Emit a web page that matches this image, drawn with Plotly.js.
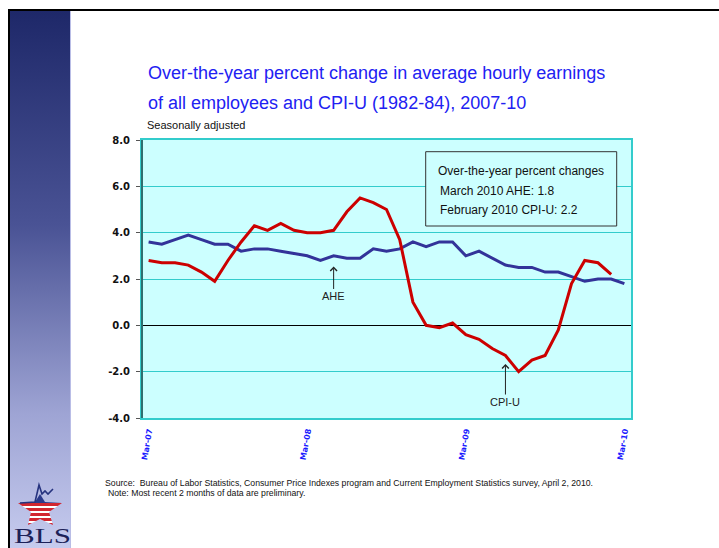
<!DOCTYPE html>
<html>
<head>
<meta charset="utf-8">
<script src="https://cdn.plot.ly/plotly-3.0.1.min.js"></script>
<style>
  html, body { margin:0; padding:0; background:#ffffff; }
  #wrap { position:relative; width:719px; height:548px; overflow:hidden; background:#fff; }
  #topline { position:absolute; left:8px; top:9px; width:711px; height:2px; background:#000; }
  #leftline { position:absolute; left:8px; top:9px; width:2px; height:539px; background:#000; }
  #bar { position:absolute; left:10px; top:11px; width:60px; height:537px;
         background:linear-gradient(to bottom, #1e2869 0%, #4a5395 40%, #9ea4d4 75%, #c6cbee 100%); }
  #barEdge { position:absolute; left:70px; top:11px; width:1px; height:537px; background:#b9bde6; }
  #logo { position:absolute; left:0; top:470px; width:90px; height:78px; }
  #chart { position:absolute; left:0; top:0; width:719px; height:548px; }
</style>
</head>
<body>
<div id="wrap">
  <div id="topline"></div>
  <div id="leftline"></div>
  <div id="bar"></div>
  <div id="barEdge"></div>
  <svg id="logo" width="90" height="78" viewBox="0 470 90 78" xmlns="http://www.w3.org/2000/svg">
    <defs>
      <clipPath id="starClip">
        <polygon points="40,494 45,502 62,503 49,512 53,525 40,519 28,525 31,512 18,503 35,502"/>
      </clipPath>
    </defs>
    <g clip-path="url(#starClip)">
      <rect x="15" y="492" width="50" height="11" fill="#2b3a8c"/>
      <rect x="15" y="503" width="50" height="3" fill="#d22630"/>
      <rect x="15" y="506" width="50" height="2" fill="#ffffff"/>
      <rect x="15" y="508" width="50" height="3" fill="#d22630"/>
      <rect x="15" y="511" width="50" height="2" fill="#ffffff"/>
      <rect x="15" y="513" width="50" height="3" fill="#d22630"/>
      <rect x="15" y="516" width="50" height="2" fill="#ffffff"/>
      <rect x="15" y="518" width="50" height="3" fill="#d22630"/>
      <rect x="15" y="521" width="50" height="2" fill="#ffffff"/>
      <rect x="15" y="523" width="50" height="3" fill="#d22630"/>
    </g>
    <polyline points="20,503 35,502 39,485 42,494 45,491 48,494 53,489" fill="none" stroke="#26337f" stroke-width="1.6"/>
    <text x="14" y="543" font-family="Liberation Serif, DejaVu Serif, serif" font-size="21" fill="#1c2158" textLength="57" lengthAdjust="spacingAndGlyphs">BLS</text>
  </svg>
  <div id="chart"></div>
</div>
<script>
// ---- data ----
const months = ["Mar-07","Apr-07","May-07","Jun-07","Jul-07","Aug-07","Sep-07","Oct-07","Nov-07","Dec-07",
  "Jan-08","Feb-08","Mar-08","Apr-08","May-08","Jun-08","Jul-08","Aug-08","Sep-08","Oct-08","Nov-08","Dec-08",
  "Jan-09","Feb-09","Mar-09","Apr-09","May-09","Jun-09","Jul-09","Aug-09","Sep-09","Oct-09","Nov-09","Dec-09",
  "Jan-10","Feb-10","Mar-10"];
const aheValues = [3.6,3.5,3.7,3.9,3.7,3.5,3.5,3.2,3.3,3.3,3.2,3.1,3.0,2.8,3.0,2.9,2.9,3.3,3.2,3.3,3.6,3.4,
  3.6,3.6,3.0,3.2,2.9,2.6,2.5,2.5,2.3,2.3,2.1,1.9,2.0,2.0,1.8];
const cpiValues = [2.8,2.7,2.7,2.6,2.3,1.9,2.8,3.6,4.3,4.1,4.4,4.1,4.0,4.0,4.1,4.9,5.5,5.3,5.0,3.7,1.0,0.0,
  -0.1,0.1,-0.4,-0.6,-1.0,-1.3,-2.0,-1.5,-1.3,-0.2,1.8,2.8,2.7,2.2];
const xTickVals = ["Mar-07","Mar-08","Mar-09","Mar-10"];
const yTickVals = [-4,-2,0,2,4,6,8];
const yTickText = ["-4.0","-2.0","0.0","2.0","4.0","6.0","8.0"];
const titleLines = ["Over-the-year percent change in average hourly earnings",
                    "of all employees and CPI-U (1982-84), 2007-10"];
const subtitle = "Seasonally adjusted";
const boxLines = ["Over-the-year percent changes","March 2010 AHE: 1.8","February 2010 CPI-U: 2.2"];
const sourceLines = ["Source:  Bureau of Labor Statistics, Consumer Price Indexes program and Current Employment Statistics survey, April 2, 2010.",
                     "Note: Most recent 2 months of data are preliminary."];

// ---- layout helpers (pixel -> paper) ----
const L = 142, R = 631, T = 140, B = 418;
const px = x => (x - L) / (R - L);
const py = y => (B - y) / (B - T);

const traces = [
  { type:'scatter', mode:'lines', name:'AHE', x: months, y: aheValues,
    line:{ color:'#333399', width:3 }, hoverinfo:'skip' },
  { type:'scatter', mode:'lines', name:'CPI-U', x: months.slice(0, cpiValues.length), y: cpiValues,
    line:{ color:'#cc0000', width:3 }, hoverinfo:'skip' }
];

const sansFont = 'Liberation Sans, Arial, sans-serif';
const annotations = [
  { xref:'paper', yref:'paper', x:px(145.5), y:py(73.5), xanchor:'left', yanchor:'middle', showarrow:false,
    text:titleLines[0], font:{ family:sansFont, size:18, color:'#2121f2' } },
  { xref:'paper', yref:'paper', x:px(145.5), y:py(103.5), xanchor:'left', yanchor:'middle', showarrow:false,
    text:titleLines[1], font:{ family:sansFont, size:18, color:'#2121f2' } },
  { xref:'paper', yref:'paper', x:px(144.5), y:py(125), xanchor:'left', yanchor:'middle', showarrow:false,
    text:subtitle, font:{ family:sansFont, size:11, color:'#111' } },
  { xref:'paper', yref:'paper', x:px(436), y:py(170.5), xanchor:'left', yanchor:'middle', showarrow:false,
    text:boxLines[0], font:{ family:sansFont, size:12, color:'#111' } },
  { xref:'paper', yref:'paper', x:px(438), y:py(190.5), xanchor:'left', yanchor:'middle', showarrow:false,
    text:boxLines[1], font:{ family:sansFont, size:12, color:'#111' } },
  { xref:'paper', yref:'paper', x:px(438), y:py(210), xanchor:'left', yanchor:'middle', showarrow:false,
    text:boxLines[2], font:{ family:sansFont, size:12, color:'#111' } },
  { x:'May-08', y:2.54, ax:0, ay:30, text:'AHE', showarrow:true, arrowhead:4, arrowsize:1.3, arrowwidth:1,
    arrowcolor:'#222', standoff:0, font:{ family:sansFont, size:11, color:'#222' } },
  { x:'Jun-09', y:-1.67, ax:0, ay:38, text:'CPI-U', showarrow:true, arrowhead:4, arrowsize:1.3, arrowwidth:1,
    arrowcolor:'#222', standoff:0, font:{ family:sansFont, size:11, color:'#222' } },
  { xref:'paper', yref:'paper', x:px(103), y:py(483.3), xanchor:'left', yanchor:'middle', showarrow:false,
    text:sourceLines[0], font:{ family:sansFont, size:8.7, color:'#111' } },
  { xref:'paper', yref:'paper', x:px(105.5), y:py(493.3), xanchor:'left', yanchor:'middle', showarrow:false,
    text:sourceLines[1], font:{ family:sansFont, size:8.7, color:'#111' } }
];

const shapes = [
  { type:'rect', xref:'paper', yref:'paper', x0:px(425.7), x1:px(616.7), y0:py(226), y1:py(151.7),
    fillcolor:'#ccffff', line:{ color:'#333', width:1 }, layer:'above' },
  { type:'line', xref:'paper', yref:'paper', x0:0, x1:0, y0:0, y1:1,
    line:{ color:'#2f6f6f', width:2 }, layer:'above' }
];

const layout = {
  width:719, height:548,
  margin:{ l:L, r:719-R, t:T, b:548-B, pad:0 },
  paper_bgcolor:'rgba(0,0,0,0)',
  plot_bgcolor:'#ccffff',
  showlegend:false,
  xaxis:{
    type:'category', range:[-0.5, months.length - 0.5],
    tickmode:'array', tickvals:xTickVals, ticktext:xTickVals, tickangle:-80,
    tickfont:{ family:'DejaVu Sans, Verdana, sans-serif', size:8, color:'#1a1aff', weight:'bold' },
    ticks:'', showgrid:false, zeroline:false, ticklabelstandoff:3,
    showline:true, linecolor:'#33cccc', linewidth:2, mirror:true
  },
  yaxis:{
    range:[-4, 8], tickmode:'array', tickvals:yTickVals, ticktext:yTickText,
    tickfont:{ family:'DejaVu Sans, Verdana, sans-serif', size:10, color:'#111', weight:'bold' },
    ticks:'outside', ticklen:4, tickcolor:'#555', ticklabelstandoff:4,
    showgrid:true, gridcolor:'#33cccc', gridwidth:1,
    zeroline:true, zerolinecolor:'#000', zerolinewidth:1,
    showline:true, linecolor:'#33cccc', linewidth:2, mirror:true
  },
  annotations: annotations,
  shapes: shapes
};

Plotly.newPlot('chart', traces, layout, { displayModeBar:false, staticPlot:true });
</script>
</body>
</html>
